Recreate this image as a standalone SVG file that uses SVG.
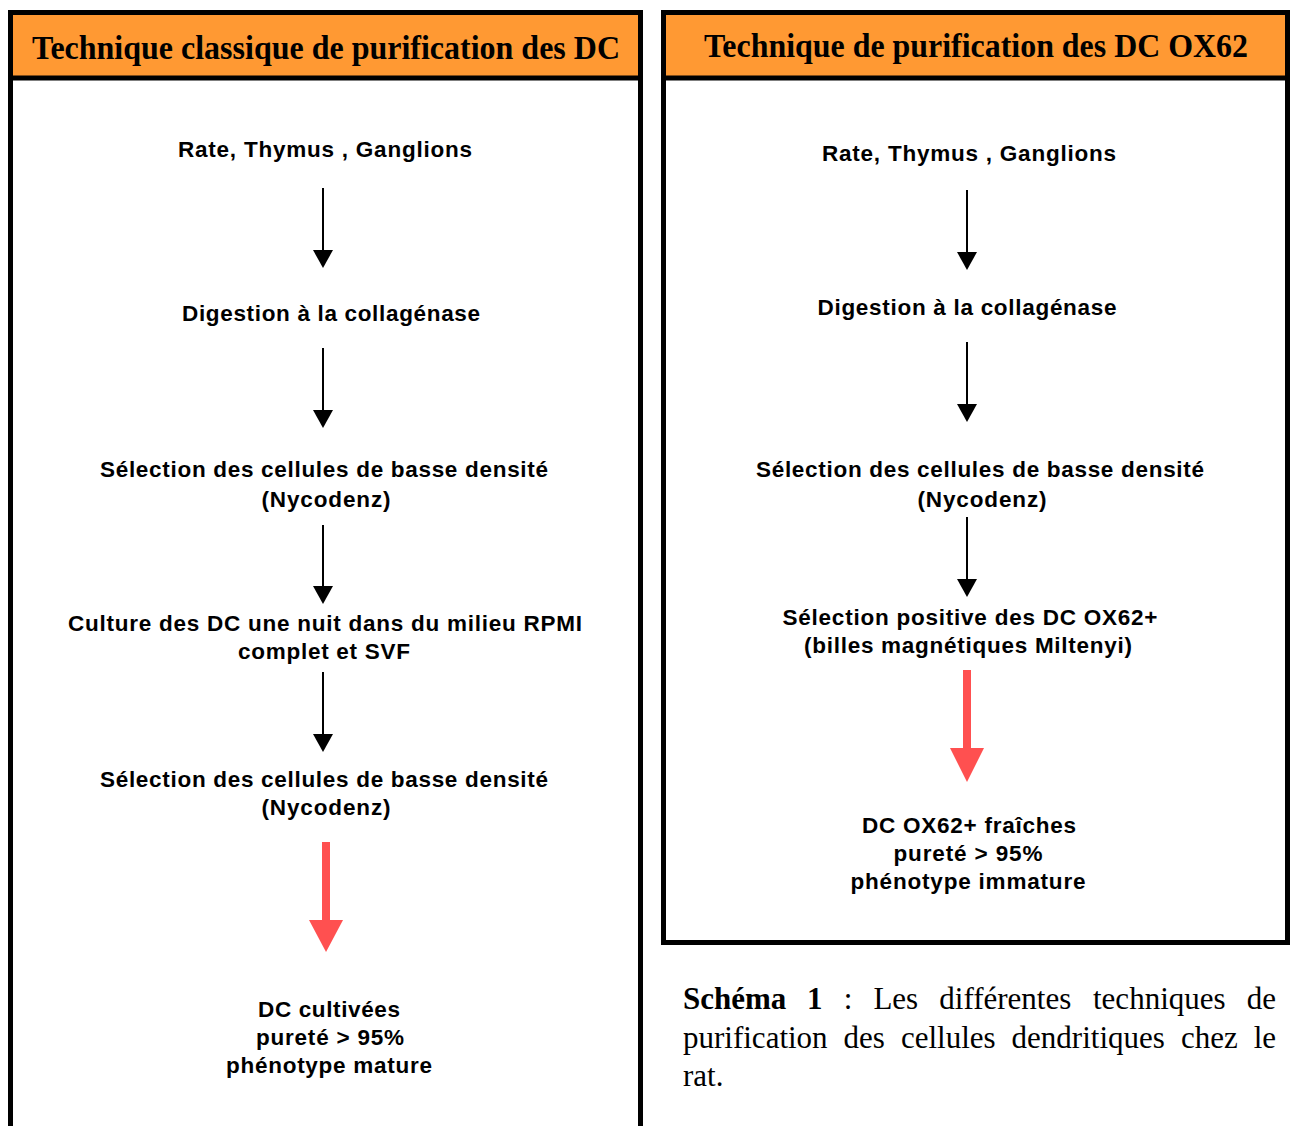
<svg xmlns="http://www.w3.org/2000/svg" width="1291" height="1126" viewBox="0 0 1291 1126">
<style>
.hdr{fill:#FF9933}
.frame{fill:none;stroke:#000;stroke-width:5}
.t{font-family:"Liberation Sans",Arial,sans-serif;font-weight:bold;font-size:22.5px;text-anchor:middle;fill:#000}
.h{font-family:"Liberation Serif","Times New Roman",serif;font-weight:bold;font-size:33px;text-anchor:middle;fill:#000}
.cap text{font-family:"Liberation Serif","Times New Roman",serif;font-size:31px;fill:#000}
.b{font-weight:bold}
.ln{stroke:#000;stroke-width:2}
.hd{fill:#000}
.rd{stroke:#FF5050;stroke-width:8}
.rh{fill:#FF5050}
</style>
<rect width="1291" height="1126" fill="#fff"/>
<g id="panel-left">
<rect x="13" y="15" width="625" height="61" class="hdr"/>
<path d="M10.5,1130 V12.5 H640.5 V1130" class="frame"/>
<line x1="10" y1="78" x2="641" y2="78" stroke="#000" stroke-width="5"/>
<text x="326" y="59" class="h" textLength="588" lengthAdjust="spacingAndGlyphs">Technique classique de purification des DC</text>
</g>
<g id="panel-right">
<rect x="666" y="15" width="620" height="61" class="hdr"/>
<rect x="663.5" y="12.5" width="624" height="930" class="frame"/>
<line x1="663" y1="78" x2="1288" y2="78" stroke="#000" stroke-width="5"/>
<text x="976" y="57" class="h" textLength="544" lengthAdjust="spacingAndGlyphs">Technique de purification des DC OX62</text>
</g>
<g id="n-l1"><text x="325" y="157" class="t" textLength="294">Rate, Thymus , Ganglions</text></g>
<g id="n-l2"><text x="331" y="321" class="t" textLength="298">Digestion à la collagénase</text></g>
<g id="n-l3"><text x="324" y="477" class="t" textLength="448">Sélection des cellules de basse densité</text><text x="326" y="507" class="t" textLength="129">(Nycodenz)</text></g>
<g id="n-l4"><text x="325" y="631" class="t" textLength="514">Culture des DC une nuit dans du milieu RPMI</text><text x="324" y="659" class="t" textLength="172">complet et SVF</text></g>
<g id="n-l5"><text x="324" y="787" class="t" textLength="448">Sélection des cellules de basse densité</text><text x="326" y="815" class="t" textLength="129">(Nycodenz)</text></g>
<g id="n-l6"><text x="329" y="1017" class="t" textLength="142">DC cultivées</text><text x="330" y="1045" class="t" textLength="148">pureté &gt; 95%</text><text x="329" y="1073" class="t" textLength="206">phénotype mature</text></g>
<g id="n-r1"><text x="969" y="161" class="t" textLength="294">Rate, Thymus , Ganglions</text></g>
<g id="n-r2"><text x="967" y="315" class="t" textLength="299">Digestion à la collagénase</text></g>
<g id="n-r3"><text x="980" y="477" class="t" textLength="448">Sélection des cellules de basse densité</text><text x="982" y="507" class="t" textLength="129">(Nycodenz)</text></g>
<g id="n-r4"><text x="970" y="625" class="t" textLength="375">Sélection positive des DC OX62+</text><text x="968" y="653" class="t" textLength="328">(billes magnétiques Miltenyi)</text></g>
<g id="n-r5"><text x="969" y="833" class="t" textLength="214">DC OX62+ fraîches</text><text x="968" y="861" class="t" textLength="149">pureté &gt; 95%</text><text x="968" y="889" class="t" textLength="235">phénotype immature</text></g>
<g id="connectors">
<line x1="323" y1="188" x2="323" y2="252" class="ln"/><path d="M313,250 L333,250 L323,268 Z" class="hd"/>
<line x1="323" y1="348" x2="323" y2="412" class="ln"/><path d="M313,410 L333,410 L323,428 Z" class="hd"/>
<line x1="323" y1="525" x2="323" y2="588" class="ln"/><path d="M313,586 L333,586 L323,604 Z" class="hd"/>
<line x1="323" y1="672" x2="323" y2="736" class="ln"/><path d="M313,734 L333,734 L323,752 Z" class="hd"/>
<line x1="326" y1="842" x2="326" y2="922" class="rd"/><path d="M309,920 L343,920 L326,952 Z" class="rh"/>
<line x1="967" y1="190" x2="967" y2="254" class="ln"/><path d="M957,252 L977,252 L967,270 Z" class="hd"/>
<line x1="967" y1="342" x2="967" y2="406" class="ln"/><path d="M957,404 L977,404 L967,422 Z" class="hd"/>
<line x1="967" y1="517" x2="967" y2="581" class="ln"/><path d="M957,579 L977,579 L967,597 Z" class="hd"/>
<line x1="967" y1="670" x2="967" y2="750" class="rd"/><path d="M950,748 L984,748 L967,782 Z" class="rh"/>
</g>
<g id="caption" class="cap">
<text x="683" y="1009" class="b">Schéma</text>
<text x="807" y="1009" class="b">1</text>
<text x="843.7" y="1009">:</text>
<text x="873.4" y="1009">Les</text>
<text x="939.3" y="1009">différentes</text>
<text x="1093" y="1009">techniques</text>
<text x="1276" y="1009" text-anchor="end">de</text>
<text x="683" y="1048">purification</text>
<text x="843.6" y="1048">des</text>
<text x="900.9" y="1048">cellules</text>
<text x="1011.6" y="1048">dendritiques</text>
<text x="1180.9" y="1048">chez</text>
<text x="1276" y="1048" text-anchor="end">le</text>
<text x="683" y="1086">rat.</text>
</g>
</svg>
